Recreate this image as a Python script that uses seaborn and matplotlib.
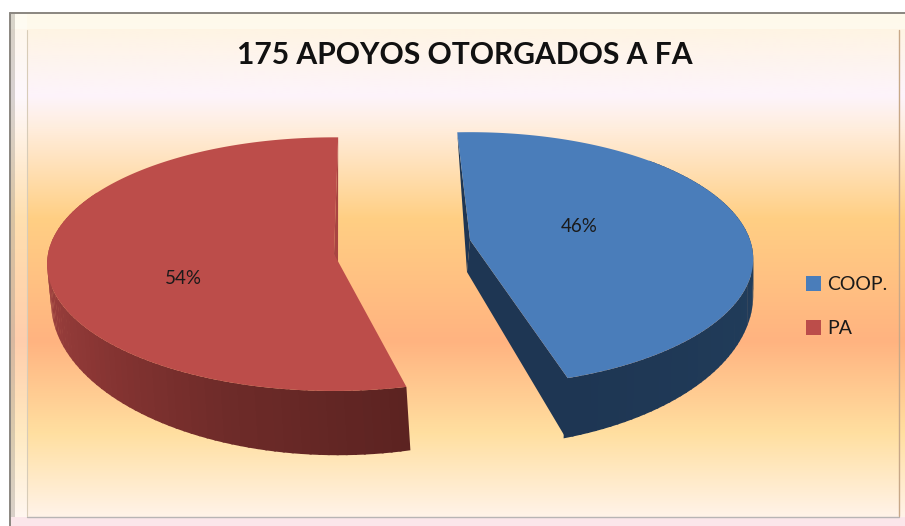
import numpy as np
import matplotlib
matplotlib.use('Agg')
import matplotlib.pyplot as plt
from matplotlib.colors import LinearSegmentedColormap
from matplotlib.patches import Patch, Polygon, Rectangle
import seaborn as sns

# chart values
categories = ['COOP.', 'PA']
values = [46, 54]
title = '175 APOYOS OTORGADOS A FA'

top_colors = ['#4A7DBA', '#BC4D4A']
radial_colors = ['#1E3653', '#A84442']

# start angle (clockwise from 12 o'clock), perspective, top face and bottom rim of each slice
start_angles = [-3, 166.5]
persp = [0.15, 0.08]
top_geom = [(470, 240, 280, 124), (334, 254, 286, 126)]
low_geom = [(467, 272, 283, 149), (338, 290, 286, 152)]
wall_range = [(45, None), (None, 300)]
label_xy = [(579, 226), (183, 278)]

sns.set_theme(style='white')
plt.rcParams['font.family'] = ['Lato', 'DejaVu Sans']

fig = plt.figure(figsize=(9.05, 5.26), dpi=100)
ax = fig.add_axes([0, 0, 1, 1])
ax.set_xlim(0, 905)
ax.set_ylim(526, 0)
ax.axis('off')

# background gradient
stops = [(0.0, '#FFF4DE'), (0.16, '#FDF4FB'), (0.22, '#FFEEDF'), (0.40, '#FFCF84'),
         (0.64, '#FFB380'), (0.82, '#FFDFA0'), (1.0, '#FFF5F0')]
bg = LinearSegmentedColormap.from_list('bg', stops)
ax.imshow(np.linspace(0, 1, 256).reshape(-1, 1), cmap=bg, extent=[10, 905, 526, 13],
          aspect='auto', zorder=0)
ax.set_xlim(0, 905)
ax.set_ylim(526, 0)

# bevelled frame
ax.add_patch(Rectangle((10, 13), 895, 16, color='#FFFCF0', alpha=0.75, lw=0, zorder=1))
ax.add_patch(Rectangle((10, 13), 17, 513, color='#FFFFFF', alpha=0.35, lw=0, zorder=1))
ax.add_patch(Rectangle((10, 13), 5, 513, color='#A09A90', alpha=0.4, lw=0, zorder=1))
ax.plot([10, 905], [13, 13], color='#8A8680', lw=1.4, zorder=2)
ax.plot([10, 10], [13, 526], color='#8A8680', lw=1.4, zorder=2)
ax.plot([27, 27], [30, 516], color='#D8CCB8', lw=0.8, zorder=2)
ax.plot([899, 899], [30, 516], color='#C8A888', lw=1, zorder=2)
ax.plot([27, 899], [516.5, 516.5], color='#B8B4B4', lw=1, zorder=2)
ax.add_patch(Rectangle((10, 517), 895, 9, color='#FBE6EA', lw=0, zorder=1))


def rim(theta, geom, p):
    cx, cy, rx, ry = geom
    t = np.radians(theta)
    w = 1 + p * np.cos(t)
    return cx + rx * np.sin(t) / w, cy - ry * np.cos(t) / w


wall_pal = [sns.blend_palette(['#1E3653', '#213D5B', '#1E3653'], 80),
            sns.blend_palette(['#5C2321', '#6E2B29', '#8A3634', '#A04240', '#AA4744'], 80)]

total = sum(values)
for i, v in enumerate(values):
    a0 = start_angles[i]
    a1 = a0 + 360 * v / total
    p = persp[i]
    tg, lg = top_geom[i], low_geom[i]

    # outer wall, cut in strips for the shading
    lo = a0 if wall_range[i][0] is None else wall_range[i][0]
    hi = a1 if wall_range[i][1] is None else wall_range[i][1]
    edges = np.linspace(lo, hi, 81)
    for k in range(80):
        th = np.linspace(edges[k], edges[k + 1] + 0.4, 4)
        xt, yt = rim(th, tg, p)
        xb, yb = rim(th, lg, p)
        pts = np.r_[np.c_[xt, yt], np.c_[xb, yb][::-1]]
        col = wall_pal[i][79 - k] if i == 0 else wall_pal[i][k]
        ax.add_patch(Polygon(pts, closed=True, color=col, lw=0, zorder=3))

    # radial walls
    xa, ya = rim(a0, tg, p)
    xe, ye = rim(a1, tg, p)
    xeb, yeb = rim(a1, lg, p)
    if i == 0:
        ax.add_patch(Polygon([(tg[0], tg[1]), (xe, ye), (xeb, yeb), (lg[0], lg[1])],
                             closed=True, color=radial_colors[i], lw=0, zorder=3))
        ax.add_patch(Polygon([(xa, ya), (tg[0], tg[1]), (lg[0], lg[1])],
                             closed=True, color=radial_colors[i], lw=0, zorder=3))
    else:
        ax.add_patch(Polygon([(xe, ye), (tg[0], tg[1]), (lg[0], lg[1])],
                             closed=True, color=radial_colors[i], lw=0, zorder=3))

    # top face
    th = np.linspace(a0, a1, 200)
    xt, yt = rim(th, tg, p)
    pts = np.r_[[(tg[0], tg[1])], np.c_[xt, yt]]
    ax.add_patch(Polygon(pts, closed=True, color=top_colors[i], lw=0, zorder=4))

    # percent label
    ax.text(label_xy[i][0], label_xy[i][1], f'{v}%', ha='center', va='center', fontsize=13.5,
            color='#1A1A1A', zorder=5)

ax.text(465, 55, title, ha='center', va='center', fontsize=21.6, fontweight='bold',
        color='#111111', zorder=5)

handles = [Patch(facecolor=c, edgecolor='none', label=n) for c, n in zip(top_colors, categories)]
leg = ax.legend(handles=handles, loc='upper left', bbox_to_anchor=(800, 270),
                bbox_transform=ax.transData, frameon=False, fontsize=14,
                handlelength=0.8, handleheight=0.8, handletextpad=0.3,
                labelspacing=1.4, borderpad=0.3, borderaxespad=0)
for t in leg.get_texts():
    t.set_color('#1A1A1A')
leg.set_zorder(6)

fig.savefig('out.png', dpi=100)
